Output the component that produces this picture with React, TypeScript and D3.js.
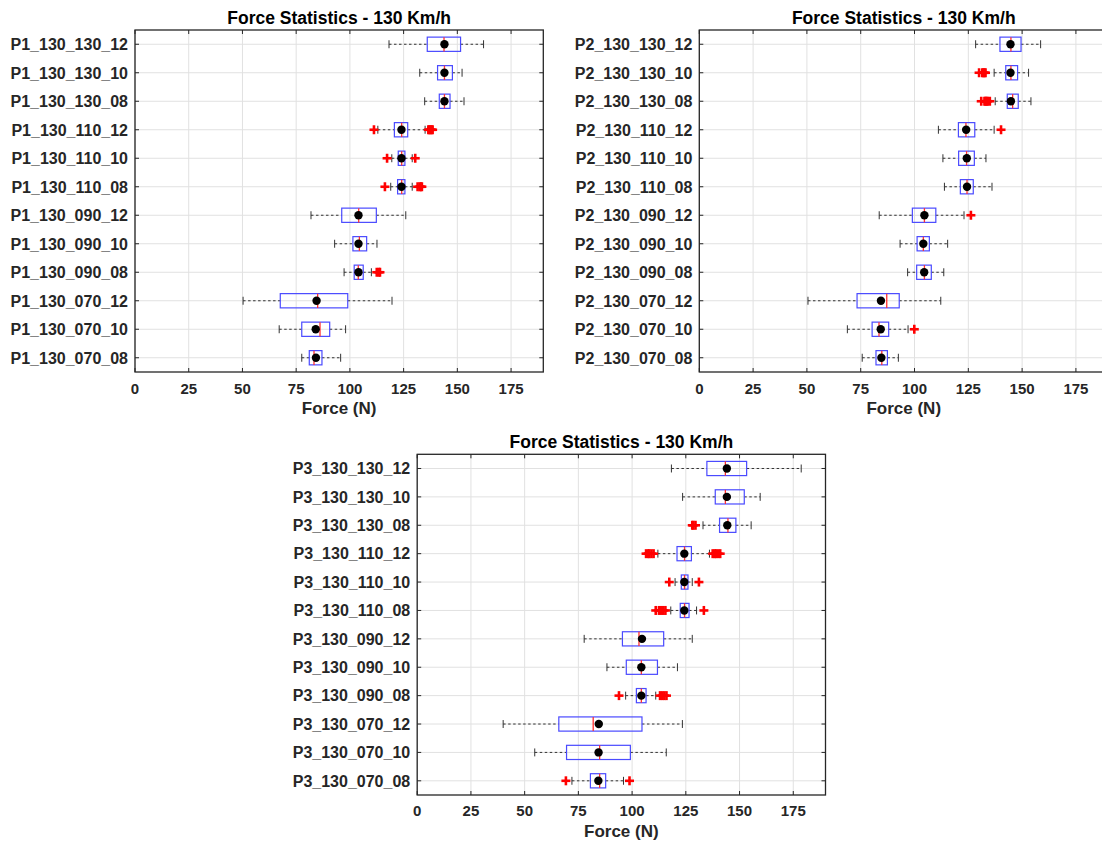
import React from "react";
import * as d3 from "d3";

// Shared x axis setup (Force in Newtons)
const xDomain: [number, number] = [0, 190];
const xTicks = [0, 25, 50, 75, 100, 125, 150, 175];
const titleText = "Force Statistics - 130 Km/h";
const xLabelText = "Force (N)";

// Row suffixes, top to bottom
const suffixes = [
  "130_130_12", "130_130_10", "130_130_08",
  "130_110_12", "130_110_10", "130_110_08",
  "130_090_12", "130_090_10", "130_090_08",
  "130_070_12", "130_070_10", "130_070_08",
];

// ---- P1 ----
const p1Categories = suffixes.map((s) => `P1_${s}`);
const p1Low = [118.2, 132.5, 134.8, 113, 119.5, 119, 81.9, 92.9, 97.3, 50.3, 67.1, 77.6];
const p1Q1 = [136.0, 140.8, 141.6, 120.7, 122.5, 122.2, 96.2, 101.4, 102.0, 67.6, 77.6, 81.1];
const p1Median = [143.8, 144.0, 144.0, 124.1, 124.1, 124.1, 104.1, 104.4, 103.9, 85.0, 86.1, 83.3];
const p1Q3 = [151.5, 147.7, 146.6, 126.9, 125.6, 125.6, 112.3, 107.8, 106.2, 99.0, 90.6, 87.0];
const p1High = [162.2, 152.2, 153.1, 135, 129, 129, 126.0, 112.6, 110, 119.6, 98.0, 95.7];
const p1Mean = [144.0, 144.0, 144.0, 124.0, 124.0, 124.0, 104.0, 104.0, 104.0, 84.5, 84.1, 84.2];
const p1Outliers = [
  [], [], [],
  [111.2, 136.5, 137, 137.5, 138, 138.5],
  [117.3, 130.4],
  [116.3, 131.5, 132.5, 133, 133.5],
  [], [],
  [112.5, 113.5, 114],
  [], [], [],
];

// ---- P2 ----
const p2Categories = suffixes.map((s) => `P2_${s}`);
const p2Low = [128.4, 137, 137.5, 111.1, 113.2, 113.9, 83.6, 93.3, 96.8, 50.5, 68.8, 75.7];
const p2Q1 = [139.7, 142.4, 143.1, 120.4, 120.5, 121.3, 99.0, 101.2, 101.0, 73.3, 80.3, 82.1];
const p2Median = [144.8, 144.8, 145.6, 123.9, 124.2, 124.4, 104.6, 104.1, 104.6, 87.1, 83.5, 84.8];
const p2Q3 = [149.5, 147.9, 148.2, 128.0, 127.8, 127.3, 109.9, 106.9, 107.8, 92.9, 88.0, 87.4];
const p2High = [158.6, 153.0, 154.1, 137, 133.2, 136.0, 123, 115.4, 113.6, 112.2, 97, 92.5];
const p2Mean = [144.6, 144.6, 144.8, 124.0, 124.3, 124.4, 104.6, 104.1, 104.5, 84.4, 84.3, 84.6];
const p2Outliers = [
  [],
  [130, 131.5, 132, 132.5, 133],
  [131, 132.5, 133, 133.5, 134, 135],
  [140.2],
  [], [],
  [126.2],
  [], [], [],
  [99.9],
  [],
];

// ---- P3 ----
const p3Categories = suffixes.map((s) => `P3_${s}`);
const p3Low = [118.3, 123.5, 133, 112, 120, 118, 77.7, 88.3, 97, 40.0, 54.7, 72];
const p3Q1 = [134.8, 138.7, 140.7, 120.9, 122.9, 122.4, 95.5, 97.3, 102.0, 65.9, 69.5, 80.6];
const p3Median = [143.4, 143.4, 144.6, 124.4, 124.4, 124.4, 103.2, 104.3, 104.3, 81.9, 84.9, 84.9];
const p3Q3 = [153.3, 152.2, 148.3, 127.6, 126.0, 126.5, 114.7, 111.8, 106.5, 104.6, 99.2, 87.7];
const p3High = [178.7, 159.6, 155.4, 136, 128, 130, 128.0, 121.1, 111, 123.4, 115.9, 96];
const p3Mean = [144.1, 144.1, 144.3, 124.3, 124.3, 124.3, 104.6, 104.3, 104.3, 84.5, 84.4, 84.3];
const p3Outliers = [
  [], [],
  [128, 128.5, 129.5],
  [106.5, 107.5, 108, 109, 110, 137.5, 138.5, 139, 140, 141],
  [117.3, 131.1],
  [111, 112.5, 113.5, 114.5, 115.5, 133.4],
  [], [],
  [93.9, 113, 114, 115, 116],
  [], [],
  [69.2, 98.8],
];

const FONT = "'Liberation Sans', Arial, Helvetica, sans-serif";
const TEXT = "#262626";
const GRID = "#e1e1e1";

type PanelProps = {
  left: number;
  top: number;
  width: number;
  height: number;
  categories: string[];
  low: number[];
  q1: number[];
  median: number[];
  q3: number[];
  high: number[];
  mean: number[];
  outliers: number[][];
};

function BoxPanel(p: PanelProps) {
  const x = d3.scaleLinear().domain(xDomain).range([0, p.width]);
  const y = d3.scaleBand<string>().domain(p.categories).range([0, p.height]);
  const bw = y.bandwidth();
  const cy = (c: string) => (y(c) ?? 0) + bw / 2;
  const boxH = bw * 0.5;
  const capH = bw * 0.28;
  const tick = 4;

  return (
    <g transform={`translate(${p.left},${p.top})`}>
      {/* grid */}
      {xTicks.map((t) => (
        <line key={`gx${t}`} x1={x(t)} x2={x(t)} y1={0} y2={p.height} stroke={GRID} strokeWidth={1} />
      ))}
      {p.categories.map((c) => (
        <line key={`gy${c}`} x1={0} x2={p.width} y1={cy(c)} y2={cy(c)} stroke={GRID} strokeWidth={1} />
      ))}

      {/* boxes */}
      {p.categories.map((c, i) => {
        const yc = cy(c);
        return (
          <g key={`b${c}`}>
            <line x1={x(p.low[i])} x2={x(p.q1[i])} y1={yc} y2={yc} stroke="#333" strokeWidth={1} strokeDasharray="2.5,2.5" />
            <line x1={x(p.q3[i])} x2={x(p.high[i])} y1={yc} y2={yc} stroke="#333" strokeWidth={1} strokeDasharray="2.5,2.5" />
            <line x1={x(p.low[i])} x2={x(p.low[i])} y1={yc - capH / 2} y2={yc + capH / 2} stroke="#333" strokeWidth={1} />
            <line x1={x(p.high[i])} x2={x(p.high[i])} y1={yc - capH / 2} y2={yc + capH / 2} stroke="#333" strokeWidth={1} />
            <rect
              x={x(p.q1[i])}
              y={yc - boxH / 2}
              width={x(p.q3[i]) - x(p.q1[i])}
              height={boxH}
              fill="none"
              stroke="#4a4aff"
              strokeWidth={1.2}
            />
            <line x1={x(p.median[i])} x2={x(p.median[i])} y1={yc - boxH / 2} y2={yc + boxH / 2} stroke="#ff3030" strokeWidth={1.3} />
            {p.outliers[i].map((v, k) => (
              <g key={`o${k}`} stroke="#ff0000" strokeWidth={2.6}>
                <line x1={x(v) - 4.5} x2={x(v) + 4.5} y1={yc} y2={yc} />
                <line x1={x(v)} x2={x(v)} y1={yc - 4.5} y2={yc + 4.5} />
              </g>
            ))}
            <circle cx={x(p.mean[i])} cy={yc} r={4.2} fill="#000" />
          </g>
        );
      })}

      {/* axes frame and inward ticks */}
      <rect x={0} y={0} width={p.width} height={p.height} fill="none" stroke={TEXT} strokeWidth={1.3} />
      {xTicks.map((t) => (
        <g key={`tx${t}`} stroke={TEXT} strokeWidth={1}>
          <line x1={x(t)} x2={x(t)} y1={p.height} y2={p.height - tick} />
          <line x1={x(t)} x2={x(t)} y1={0} y2={tick} />
        </g>
      ))}
      {p.categories.map((c) => (
        <g key={`ty${c}`} stroke={TEXT} strokeWidth={1}>
          <line x1={0} x2={tick} y1={cy(c)} y2={cy(c)} />
          <line x1={p.width} x2={p.width - tick} y1={cy(c)} y2={cy(c)} />
        </g>
      ))}

      {/* labels */}
      <text x={p.width / 2} y={-6} textAnchor="middle" fontFamily={FONT} fontWeight="bold" fontSize={17.5} fill="#000">
        {titleText}
      </text>
      {xTicks.map((t) => (
        <text key={`lx${t}`} x={x(t)} y={p.height + 21.5} textAnchor="middle" fontFamily={FONT} fontWeight="bold" fontSize={15} fill={TEXT}>
          {t}
        </text>
      ))}
      {p.categories.map((c) => (
        <text key={`ly${c}`} x={-7} y={cy(c)} dy="0.36em" textAnchor="end" fontFamily={FONT} fontWeight="bold" fontSize={16} fill={TEXT}>
          {c}
        </text>
      ))}
      <text x={p.width / 2} y={p.height + 42} textAnchor="middle" fontFamily={FONT} fontWeight="bold" fontSize={17} fill={TEXT}>
        {xLabelText}
      </text>
    </g>
  );
}

export default function App() {
  return (
    <svg
      width={1102}
      height={843}
      style={{ position: "absolute", left: 0, top: 0, background: "#fff", display: "block" }}
    >
      <rect width={1102} height={843} fill="#fff" />
      <BoxPanel
        left={135}
        top={30}
        width={408.3}
        height={342}
        categories={p1Categories}
        low={p1Low}
        q1={p1Q1}
        median={p1Median}
        q3={p1Q3}
        high={p1High}
        mean={p1Mean}
        outliers={p1Outliers}
      />
      <BoxPanel
        left={699.3}
        top={30}
        width={408.9}
        height={342}
        categories={p2Categories}
        low={p2Low}
        q1={p2Q1}
        median={p2Median}
        q3={p2Q3}
        high={p2High}
        mean={p2Mean}
        outliers={p2Outliers}
      />
      <BoxPanel
        left={417.2}
        top={454.3}
        width={408.3}
        height={340.7}
        categories={p3Categories}
        low={p3Low}
        q1={p3Q1}
        median={p3Median}
        q3={p3Q3}
        high={p3High}
        mean={p3Mean}
        outliers={p3Outliers}
      />
    </svg>
  );
}
